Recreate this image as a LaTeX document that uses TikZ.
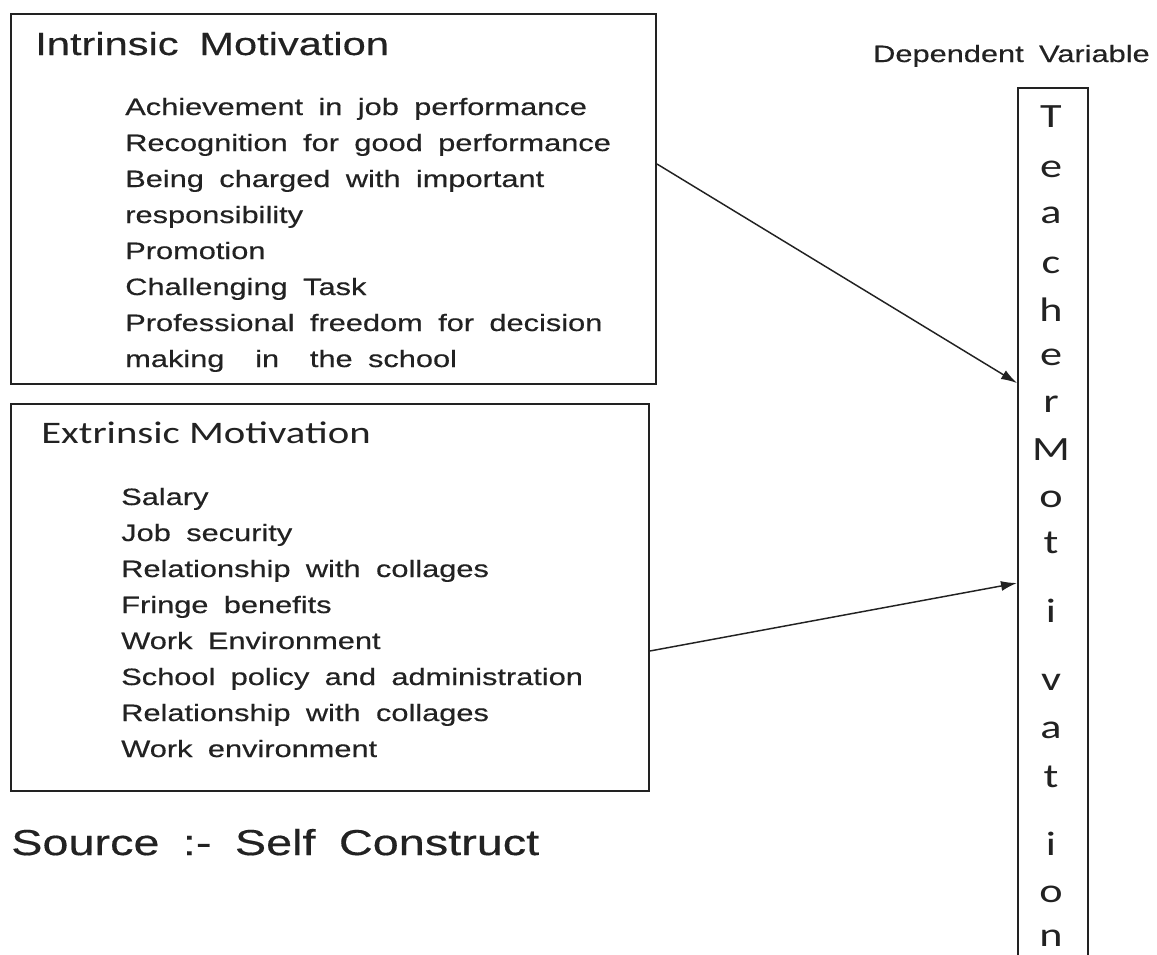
\documentclass[tikz,border=0pt]{standalone}
\usepackage{fontspec}
\usetikzlibrary{arrows.meta}
\newfontfamily\arialw{Liberation Sans}[FakeStretch=1.3,WordSpace=1.8,FakeBold=0.4]
\newfontfamily\calw{Carlito}[FakeStretch=1.3]
\definecolor{ink}{HTML}{222222}

\begin{document}
\begin{tikzpicture}[x=0.75pt,y=-0.75pt,
  frame/.style={draw=ink,line width=1.5pt,inner sep=0pt,anchor=north west},
  title/.style={anchor=base west,inner sep=0pt,text=ink,font=\arialw\fontsize{24}{28}\selectfont},
  item/.style={anchor=base west,inner sep=0pt,text=ink,font=\arialw\fontsize{17.75}{20}\selectfont},
  letter/.style={anchor=base,inner sep=0pt,text=ink,font=\calw\fontsize{25.5}{30}\selectfont},
  conn/.style={draw=ink,line width=1.1pt,-{Latex[length=12pt,width=7.5pt]}}
]
\useasboundingbox[fill=white] (0,0) rectangle (1157,954);

% the three frames
\node[frame,minimum width=483.75pt,minimum height=277.5pt] (intr) at (10,13) {};
\node[frame,minimum width=478.5pt,minimum height=290.25pt] (extr) at (10,403) {};
\node[frame,minimum width=52.5pt,minimum height=654.75pt] (dep) at (1017,87) {};

% intrinsic block
\node[title] (intrT) at (35,55) {Intrinsic Motivation};
\foreach \t [count=\i] in {
  Achievement in job performance,
  Recognition for good performance,
  Being charged with important,
  responsibility,
  Promotion,
  Challenging Task,
  Professional freedom for decision,
  making\ \ in\ \ the school}
  \node[item] (intr\i) at (125,{115+36*(\i-1)}) {\t};

% extrinsic block
\node[anchor=base west,inner sep=0pt,text=ink,font=\calw\fontsize{23.5}{27}\selectfont] (extrT) at (41,443) {Extrinsic Motivation};
\foreach \t [count=\i] in {
  Salary,
  Job security,
  Relationship with collages,
  Fringe benefits,
  Work Environment,
  School policy and administration,
  Relationship with collages,
  Work environment}
  \node[item] (extr\i) at (121,{505+36*(\i-1)}) {\t};

% dependent variable column
\node[item,anchor=base east] (depT) at (1150,62) {Dependent Variable};
\foreach \l/\yy [count=\i] in {T/127,e/177,a/223,c/273,h/321,e/365,r/412,M/460,o/507,t/553,i/622,v/690,a/738,t/787,i/855,o/902,n/946}
  \node[letter] (dl\i) at (1051,\yy) {\l};

% source note
\node[anchor=base west,inner sep=0pt,text=ink,font=\arialw\fontsize{27}{32}\selectfont] (src) at (11,855) {Source :- Self Construct};

% connectors
\draw[conn] ([yshift=26.25pt]intr.east) -- ([yshift=106.1pt]dep.west);
\draw[conn] ([yshift=-40.1pt]extr.east) -- ([yshift=-43.9pt]dep.west);
\end{tikzpicture}
\end{document}
